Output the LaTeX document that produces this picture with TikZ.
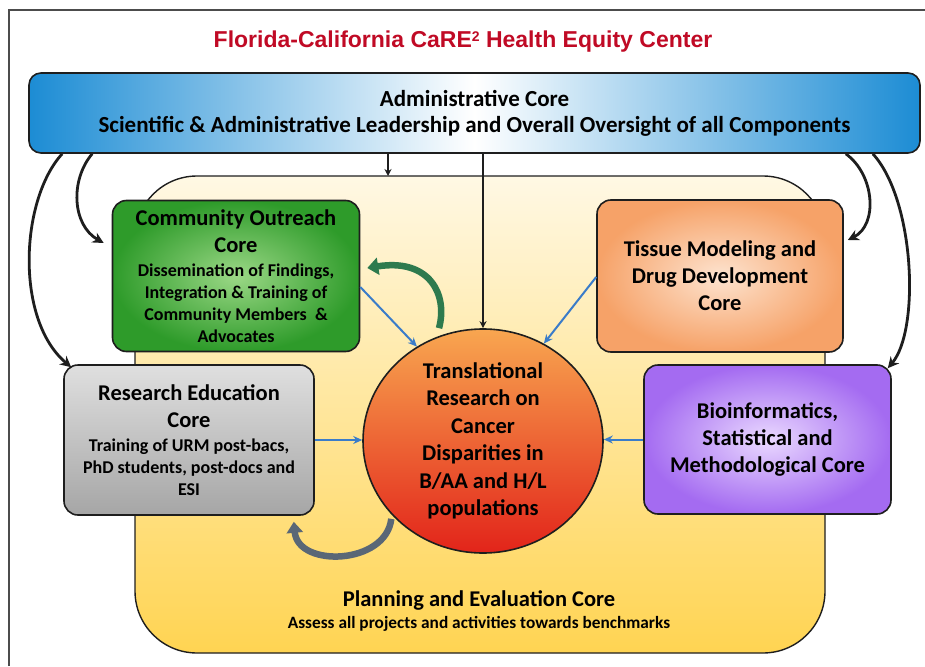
\documentclass[tikz,border=0pt]{standalone}
\usepackage{fontspec}
\setmainfont{Carlito}
\newfontfamily\arialfont{Liberation Sans}
\usetikzlibrary{arrows.meta,positioning,shapes.geometric}
\definecolor{ink}{HTML}{1E1E1E}
\definecolor{titlered}{HTML}{C00A25}
\definecolor{adminblue}{HTML}{1C8CD4}
\definecolor{arrowblue}{HTML}{3A7CC9}
\definecolor{plantop}{HTML}{FFF8E4}
\definecolor{planbot}{HTML}{FFD452}
\definecolor{greendark}{HTML}{2E9B2A}
\definecolor{greenlight}{HTML}{9BD886}
\definecolor{loopgreen}{HTML}{2E7A4E}
\definecolor{loopgray}{HTML}{5A6776}
\definecolor{peachdark}{HTML}{F6A268}
\definecolor{peachlight}{HTML}{FDE3CF}
\definecolor{purpledark}{HTML}{A46BF1}
\definecolor{purplelight}{HTML}{EAD9FF}
\definecolor{coretop}{HTML}{F8A650}
\definecolor{corebot}{HTML}{E2241A}
\newcommand\bighead[1]{{\fontsize{22.5}{27}\selectfont #1}}

\begin{document}
\begin{tikzpicture}[x=1pt,y=-1pt,
    box/.style={draw=ink,line width=1.6pt,rounded corners=14pt,inner sep=0pt,
                minimum width=247pt,minimum height=151pt,align=center},
    head/.style={font=\fontsize{22.5}{27}\selectfont\bfseries},
    small/.style={font=\fontsize{18}{21.8}\selectfont\bfseries},
    feed/.style={-{Stealth[length=9pt,width=8pt]},arrowblue,line width=2pt},
    loop/.style={-{Stealth[length=11pt,width=11pt]},ink,line width=2.8pt},
  ]
  \useasboundingbox (0,0) rectangle (925,666);
  % page frame
  \draw[gray!60!black,line width=1.5pt] (9,666) -- (9,10) -- (925,10);

  \node[font=\arialfont\bfseries\fontsize{23}{26}\selectfont,titlered] (title) at (463,42)
       {Florida-California CaRE\raisebox{6pt}{\fontsize{14}{14}\selectfont 2} Health Equity Center};

  % planning and evaluation core sits behind everything
  \node[draw=ink,line width=1.4pt,rounded corners=62pt,minimum width=690pt,minimum height=477pt,
        top color=plantop,bottom color=planbot] (plan) at (480,414.5) {};
  \node[align=center,font=\fontsize{22.5}{24}\selectfont\bfseries] (plantxt) at (479,611)
       {Planning and Evaluation Core\\[-2pt]{\fontsize{17.3}{20}\selectfont Assess all projects and activities towards benchmarks}};

  % administrative core across the top
  \node[draw=ink,line width=1.6pt,rounded corners=12pt,minimum width=891pt,minimum height=80pt,
        left color=adminblue,right color=adminblue,middle color=white,align=center,
        font=\fontsize{23}{26}\selectfont\bfseries] (admin) at (474.5,113)
       {Administrative Core\\Scientific \& Administrative Leadership and Overall Oversight of all Components};

  % the cores
  \node[box,small,shading=radial,inner color=greenlight,outer color=greendark] (outreach) at (236,276)
       {\bighead{Community Outreach}\\[5.2pt]\bighead{Core}\\[2.4pt]
        Dissemination of Findings,\\Integration \& Training of\\Community Members \ \&\\Advocates};
  \node[box,small,minimum width=250pt,minimum height=150pt,top color=gray!25,middle color=gray!38,bottom color=gray!70] (edu) at (189,440)
       {\bighead{Research Education}\\[5.2pt]\bighead{Core}\\[2.4pt]
        Training of URM post-bacs,\\PhD students, post-docs and\\ESI};
  \node[box,head,minimum width=246pt,minimum height=152pt,shading=radial,inner color=peachlight,outer color=peachdark]
       (tissue) at (720,276) {Tissue Modeling and\\Drug Development\\Core};
  \node[box,head,minimum width=247pt,minimum height=149pt,shading=radial,inner color=purplelight,outer color=purpledark]
       (bio) at (767.5,439.5) {Bioinformatics,\\Statistical and\\Methodological Core};
  \node[ellipse,draw=ink,line width=1.6pt,minimum width=240pt,minimum height=224pt,inner sep=0pt,
        top color=coretop,bottom color=corebot,align=center,
        font=\fontsize{22.5}{27.5}\selectfont\bfseries] (core) at (483,441)
       {Translational\\Research on\\Cancer\\Disparities in\\B/AA and H/L\\populations};

  % oversight from the administrative core
  \coordinate (down1) at (388,176);
  \draw[-{Stealth[length=7pt,width=7pt]},ink,line width=1.4pt] (admin.south -| down1) -- (down1);
  \draw[-{Stealth[length=7pt,width=7pt]},ink,line width=1.4pt] (admin.south -| core.north) -- (core.north);
  \draw[loop] ([xshift=34pt]admin.south west) .. controls (20,200) and (15,320) .. ([shift={(8pt,-3pt)}]edu.north west);
  \draw[loop] ([xshift=64pt]admin.south west) .. controls (70,180) and (72,225) .. ([shift={(-8pt,33pt)}]outreach.west);
  \draw[loop] ([xshift=-75pt]admin.south east) .. controls (875,175) and (878,225) .. ([shift={(4pt,36pt)}]tissue.east);
  \draw[loop] ([xshift=-48pt]admin.south east) .. controls (915,200) and (920,330) .. ([shift={(-4pt,-4pt)}]bio.north east);

  % every core feeds the centre
  \draw[feed] ([yshift=-11pt]outreach.east) -- (core.125);
  \draw[feed] ([yshift=-1pt]tissue.west) -- (core.58);
  \draw[feed] (edu.east) -- (edu.east -| core.west);
  \draw[feed] (bio.west) -- (bio.west -| core.east);

  % results going back out
  \draw[-{Triangle[length=11pt,width=17pt]},loopgreen,line width=6.5pt,shorten <=9pt]
       (core.114) .. controls (448,295) and (430,258) .. ([shift={(7pt,8pt)}]outreach.east);
  \draw[-{Triangle[length=11pt,width=16pt]},loopgray,line width=6.5pt,shorten <=4pt]
       (core.219) .. controls (386,565) and (298,568) .. ([shift={(-21pt,-6pt)}]edu.south east);
\end{tikzpicture}
\end{document}
